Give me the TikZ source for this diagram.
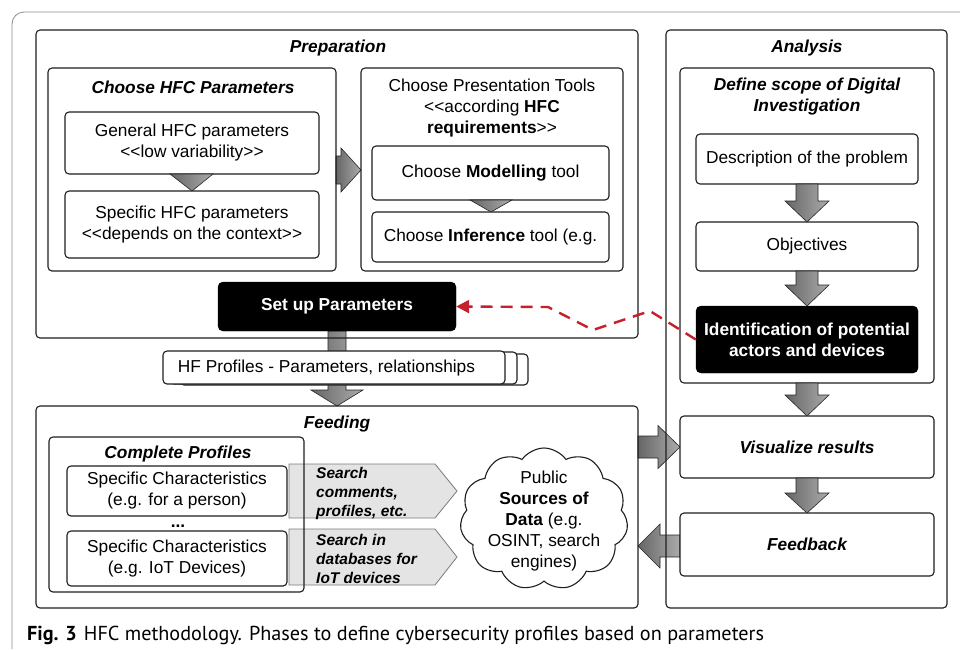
\documentclass[tikz,border=0pt]{standalone}
\usepackage{fontspec}
\setmainfont{Liberation Sans}
\newfontfamily\capfont{PT Sans}
\usetikzlibrary{shapes.symbols,arrows.meta}
\definecolor{linec}{HTML}{1E1E1E}
\definecolor{redc}{HTML}{C5202B}
\definecolor{arrdark}{HTML}{666666}
\definecolor{arrlight}{HTML}{ABABAB}
\definecolor{pentfill}{HTML}{E4E4E4}
\definecolor{pentline}{HTML}{7A7A7A}
\definecolor{framec}{HTML}{8C8C8C}
\newcommand{\txt}{\fontsize{17.3}{21}\selectfont}
\newcommand{\smtxt}{\fontsize{15.5}{19}\selectfont}
\newcommand{\dbllt}{<\kern0pt<}
\newcommand{\dblgt}{>\kern0pt>}
% vertical block arrow: x, tail y, head-base y, tip y, half shaft, half head
\newcommand{\blockv}[6]{%
  \draw[blockarrow] (#1-#5,#2) -- (#1+#5,#2) -- (#1+#5,#3) -- (#1+#6,#3) -- (#1,#4)
    -- (#1-#6,#3) -- (#1-#5,#3) -- cycle;}
% horizontal block arrow: y, tail x, head-base x, tip x, half shaft, half head
\newcommand{\blockh}[6]{%
  \draw[blockarrow] (#2,#1-#5) -- (#3,#1-#5) -- (#3,#1-#6) -- (#4,#1) -- (#3,#1+#6)
    -- (#3,#1+#5) -- (#2,#1+#5) -- cycle;}
\begin{document}
\begin{tikzpicture}[x=1pt,y=-1pt,
  container/.style={draw=linec, line width=1.1pt, rounded corners=4pt, inner sep=0},
  inbox/.style={draw=linec, fill=white, line width=1.1pt, rounded corners=4pt,
    align=center, font=\txt, inner sep=0},
  blackbox/.style={draw=black, fill=black, text=white, rounded corners=5pt,
    align=center, font=\txt\bfseries, inner sep=0},
  ttl/.style={font=\txt\bfseries\itshape, align=center, inner sep=0},
  plain/.style={font=\txt, align=center, inner sep=0},
  srch/.style={font=\smtxt\bfseries\itshape, align=left, inner sep=0, anchor=west},
  blockarrow/.style={draw=gray!30!black, line width=0.6pt, left color=arrdark, right color=arrlight},
  pent/.style={draw=pentline, line width=0.8pt, fill=pentfill},
  feedback link/.style={draw=redc, line width=2.4pt, dash pattern=on 12pt off 8pt,
    -{Triangle[length=13pt,width=13pt]}}
]
\useasboundingbox (0,0) rectangle (960,649);

% journal frame
\draw[framec, line width=0.8pt, rounded corners=12pt] (12,649) -- (12,12) -- (960,12);

% ---------- arrows lying under the boxes ----------
\blockh{170}{336}{341}{361}{14}{22}
\blockh{447}{638}{658}{680}{11}{21.5}
\blockh{546}{680}{660}{638}{11}{22}
\blockv{337}{331}{390}{406}{9}{26}
\draw[pent] (289,464) -- (435,464) -- (457,491) -- (435,518) -- (289,518) -- cycle;
\draw[pent] (289,529) -- (435,529) -- (457,557) -- (435,585) -- (289,585) -- cycle;

% ---------- Preparation ----------
\node[container, minimum width=602, minimum height=308] (prep) at (337,184) {};
\node[ttl] (prepT) at (338,48) {Preparation};
\node[container, minimum width=288, minimum height=203] (hfcp) at (192,169.5) {};
\node[ttl] (hfcpT) at (193,87) {Choose HFC Parameters};
\node[inbox, minimum width=254, minimum height=62] (gen) at (192,143)
  {General HFC parameters\\\dbllt low variability\dblgt};
\node[inbox, minimum width=254, minimum height=67] (spec) at (192,224.5)
  {Specific HFC parameters\\\dbllt depends on the context\dblgt};
\draw[blockarrow] (170,174) -- (213,174) -- (192,191) -- cycle;

\node[container, minimum width=262, minimum height=203] (pres) at (492,169.5) {};
\node[plain] (presT) at (492,108)
  {Choose Presentation Tools\\\dbllt according \textbf{HFC}\\\textbf{requirements}\dblgt};
\node[inbox, minimum width=237, minimum height=54] (model) at (490.5,173)
  {Choose \textbf{Modelling} tool};
\node[inbox, minimum width=237, minimum height=50] (infer) at (490.5,237)
  {Choose \textbf{Inference} tool (e.g.};
\draw[blockarrow] (470,200) -- (512,200) -- (491,212) -- cycle;

\node[blackbox, minimum width=238, minimum height=49] (setup) at (337,306.5) {Set up Parameters};

% ---------- HF profiles (stacked sheets) ----------
\node[inbox, minimum width=348, minimum height=31] (hfback2) at (354,369.5) {};
\node[inbox, minimum width=347, minimum height=32] (hfback1) at (343.5,368) {};
\node[inbox, minimum width=342, minimum height=33] (hfbox) at (334,367.5) {};
\node[plain] (hftext) at (326.5,368) {HF Profiles - Parameters, relationships};

% ---------- Feeding ----------
\node[container, minimum width=602, minimum height=202] (feed) at (337,507) {};
\node[ttl] (feedT) at (337,424) {Feeding};
\node[container, minimum width=255, minimum height=155] (comp) at (176.5,514.5) {};
\node[ttl] (compT) at (178,454) {Complete Profiles};
\node[inbox, minimum width=220, minimum height=50] (sc1) at (177,491)
  {Specific Characteristics\\(e.g. for a person)};
\node[plain, font=\txt\bfseries, anchor=base] (dots) at (178,527) {...};
\node[inbox, minimum width=220, minimum height=55] (sc2) at (177,558.5)
  {Specific Characteristics\\(e.g. IoT Devices)};
\node[srch] (s1) at (316,493) {Search\\comments,\\profiles, etc.};
\node[srch] (s2) at (316,559) {Search in\\databases for\\IoT devices};

\node[cloud, draw=linec, line width=1.1pt, fill=white, cloud puffs=11, cloud puff arc=110,
  aspect=1.15, minimum width=168, minimum height=142, inner sep=0] (cloud) at (544,519) {};
\node[plain] (cloudT) at (544,521)
  {Public\\\textbf{Sources of}\\\textbf{Data} (e.g.\\OSINT, search\\engines)};

% ---------- Analysis ----------
\node[container, minimum width=281, minimum height=578] (anal) at (806.5,319) {};
\node[ttl] (analT) at (807,48) {Analysis};
\node[container, minimum width=254, minimum height=315] (scope) at (807,225.5) {};
\node[ttl] (scopeT) at (807,97) {Define scope of Digital\\Investigation};
\node[inbox, minimum width=222, minimum height=50] (desc) at (807,159) {Description of the problem};
\node[inbox, minimum width=222, minimum height=49] (obj) at (807,246.5) {Objectives};
\node[blackbox, minimum width=222, minimum height=67] (ident) at (807,339.5)
  {Identification of potential\\actors and devices};
\node[inbox, minimum width=254, minimum height=62, font=\txt\bfseries\itshape] (vis) at (807,447)
  {Visualize results};
\node[inbox, minimum width=254, minimum height=63, font=\txt\bfseries\itshape] (fb) at (807,544.5)
  {Feedback};
\blockv{807}{184}{201}{222}{11}{22}
\blockv{807}{271}{285}{306}{11}{22}
\blockv{807}{383}{395}{416}{11}{22}
\blockv{807}{478}{493}{513}{11}{22}

% ---------- feedback link ----------
\draw[feedback link] (ident.west) -- (650,311) -- (593,330) -- (548,307) -- (setup.east);

% ---------- caption ----------
\node[anchor=base west, inner sep=0] (cap) at (27,640)
  {\capfont\fontsize{20.2}{23}\selectfont\textbf{Fig. 3}\hspace{7pt}HFC methodology. Phases to define cybersecurity profiles based on parameters};
\end{tikzpicture}
\end{document}
